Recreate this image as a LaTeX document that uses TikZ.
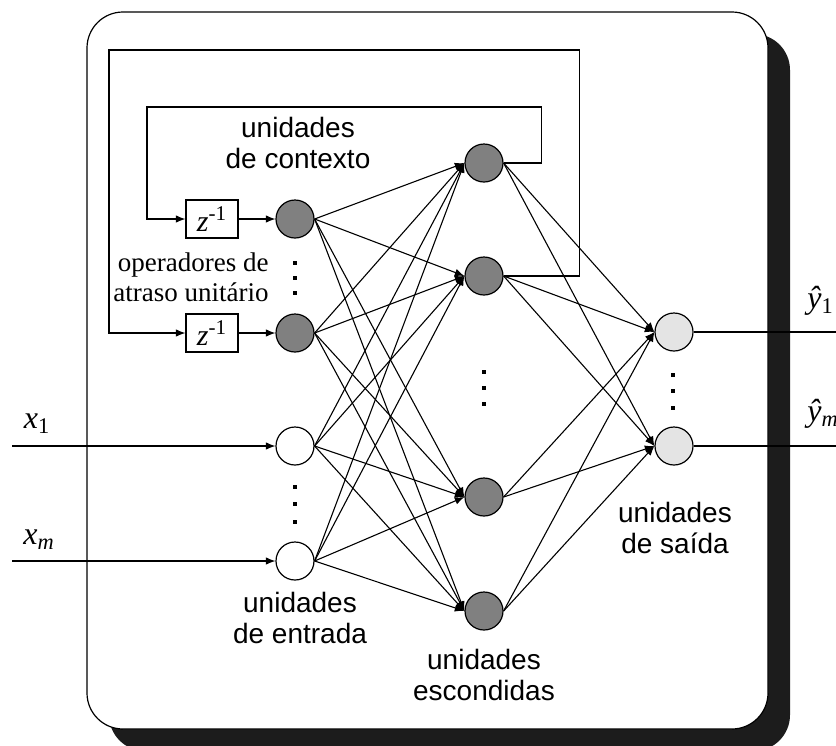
\documentclass[tikz,border=0pt]{standalone}
\usepackage{fontspec}
\setmainfont{Liberation Serif}
\setsansfont{Liberation Sans}
\usetikzlibrary{arrows.meta}

\definecolor{hiddengray}{HTML}{808080}
\definecolor{outgray}{HTML}{E4E4E4}
\definecolor{shadowgray}{HTML}{1C1C1C}

\begin{document}
\begin{tikzpicture}[x=0.5pt,y=-0.5pt,
  unit/.style={circle,draw,line width=0.6pt,minimum size=19pt,inner sep=0pt},
  ctxunit/.style={unit,fill=hiddengray},
  hidunit/.style={unit,fill=hiddengray},
  inunit/.style={unit,fill=white},
  outunit/.style={unit,fill=outgray},
  link/.style={-{Latex[length=4.8pt,width=3.8pt]},line width=0.55pt},
  plain/.style={line width=0.55pt},
  delaybox/.style={draw,line width=0.6pt,minimum width=26pt,minimum height=19pt,inner sep=0pt,
    font=\fontsize{15}{15}\selectfont},
  lbl/.style={font=\sffamily\fontsize{14}{15.5}\selectfont,align=center,inner sep=0pt},
  seriflbl/.style={font=\fontsize{13.5}{15}\selectfont,align=right,inner sep=0pt},
  varlbl/.style={font=\fontsize{16}{16}\selectfont\itshape,inner sep=0pt}
]
\useasboundingbox (0,0) rectangle (836,745);

% rounded frame with its drop shadow
\fill[shadowgray,rounded corners=18pt] (109,34) rectangle (790,751);
\draw[fill=white,line width=0.6pt,rounded corners=18pt] (87,12) rectangle (768,729);

% units
\node[ctxunit] (c1) at (295,219) {};
\node[ctxunit] (c2) at (295,333) {};
\node[inunit]  (i1) at (295,446) {};
\node[inunit]  (i2) at (295,561) {};
\node[hidunit] (h1) at (484,163) {};
\node[hidunit] (h2) at (484,276) {};
\node[hidunit] (h3) at (484,497) {};
\node[hidunit] (h4) at (484,611) {};
\node[outunit] (o1) at (674,332) {};
\node[outunit] (o2) at (674,446) {};

% unit delay operators
\node[delaybox] (d1) at (212,219) {\textit{z}\textsuperscript{-1}};
\node[delaybox] (d2) at (212,333) {\textit{z}\textsuperscript{-1}};

% free ends of the input and output lines
\coordinate (x1in) at (12,446);
\coordinate (xmin) at (12,561);
\coordinate (y1out) at (836,332);
\coordinate (ymout) at (836,446);

% layer-to-layer connections
\foreach \s in {c1,c2,i1,i2}
  \foreach \t in {h1,h2,h3,h4}
    \draw[link] (\s.east) -- (\t.west);
\foreach \s in {h1,h2,h3,h4}
  \foreach \t in {o1,o2}
    \draw[link] (\s.east) -- (\t.west);

% recurrent feedback through the delays
\draw[link] (h1.east) -- ++(38,0) |- (147,107) |- (d1.west);
\draw[link] (h2.east) -- ++(76,0) |- (109,50) |- (d2.west);
\draw[link] (d1) -- (c1);
\draw[link] (d2) -- (c2);

% inputs and outputs
\draw[link] (x1in) -- (i1);
\draw[link] (xmin) -- (i2);
\draw[plain] (o1) -- (y1out);
\draw[plain] (o2) -- (ymout);

\node[varlbl] (lx1) at (37,424) {x\textsubscript{\upshape 1}};
\node[varlbl] (lxm) at (39,540) {x\textsubscript{m}};
\node[varlbl,anchor=west] (ly1) at (807,301) {ŷ\textsubscript{\upshape 1}};
\node[varlbl,anchor=west] (lym) at (807,414) {ŷ\textsubscript{m}};

% ellipsis dots
\foreach \x/\y in {295/263,295/278,295/293,
                   295/487,295/504,295/522,
                   484/372,484/388,484/404,
                   673/375,673/391,673/408}
  \fill (\x-1.6,\y-1.6) rectangle (\x+1.6,\y+1.6);

% labels
\node[lbl] (tctx) at (298,143) {unidades\\de contexto};
\node[seriflbl,anchor=east] (tdel) at (269,277) {operadores de\\atraso unitário};
\node[lbl] (tin) at (300,618) {unidades\\de entrada};
\node[lbl] (thid) at (484,675) {unidades\\escondidas};
\node[lbl] (tout) at (675,528) {unidades\\de saída};
\end{tikzpicture}
\end{document}
